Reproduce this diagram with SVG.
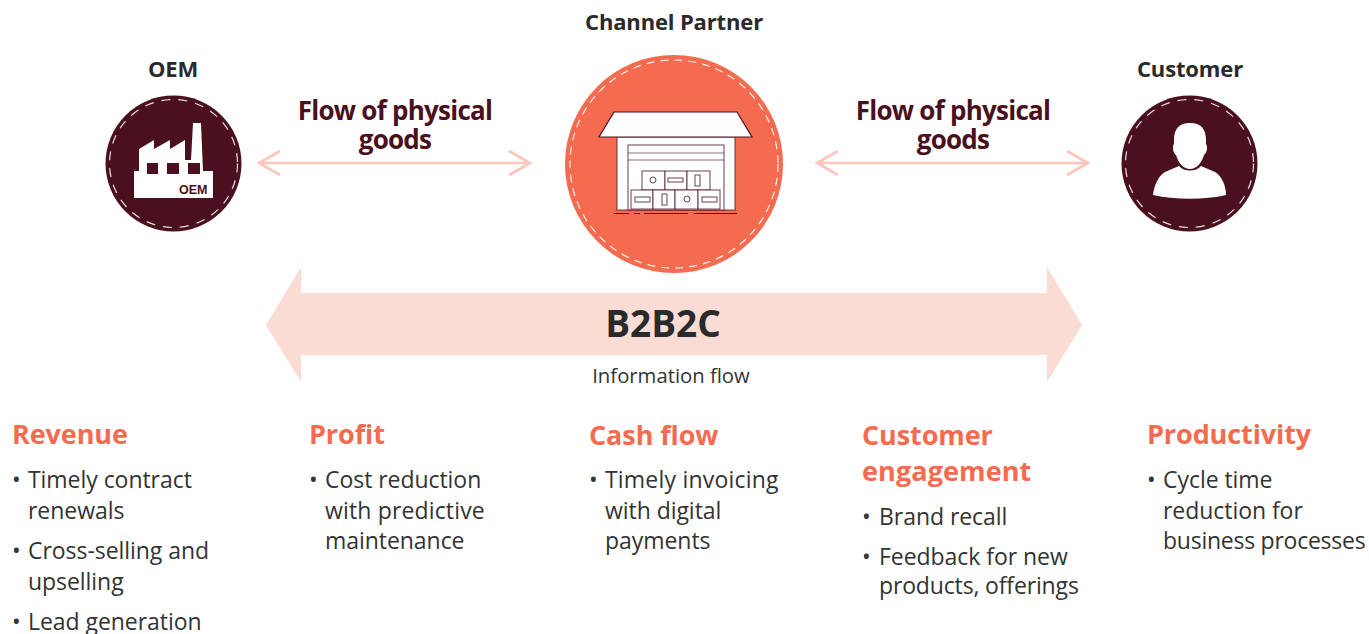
<svg xmlns="http://www.w3.org/2000/svg" width="1369" height="634" viewBox="0 0 1369 634">
<style>
text{font-family:"Open Sans","Noto Sans","Liberation Sans",sans-serif}
.t{font-size:22px;font-weight:700;fill:#2a2a2a;text-anchor:middle;letter-spacing:-.15px}
.f{font-size:26px;font-weight:700;fill:#4a101d;text-anchor:middle;letter-spacing:-.75px}
.h{font-size:27px;font-weight:700;fill:#f46b50;letter-spacing:-.1px}
.b{font-size:23px;fill:#333;letter-spacing:-.05px}
.dash{fill:none;stroke:#fff;stroke-width:1.2;stroke-dasharray:8 6;opacity:.9}
.dash2{fill:none;stroke:#fff;stroke-width:1.2;stroke-dasharray:9 8;opacity:.85}
.dark{fill:#4a101d}
.arrow{fill:none;stroke:#fdc5bb;stroke-width:2.6}
.ln{fill:none;stroke:#4a101d;stroke-width:1.2}
.ln2{fill:#fff;stroke:#4a101d;stroke-width:1;stroke-opacity:.8}
</style>
<rect width="1369" height="634" fill="#fff"/>
<g id="connectors">
<path class="arrow" d="M259 163H530M280 151L259 163L280 175M509 151L530 163L509 175"/>
<path class="arrow" d="M817 163H1088M838 151L817 163L838 175M1067 151L1088 163L1067 175"/>
<text class="f" x="395" y="120">Flow of physical</text>
<text class="f" x="395" y="149">goods</text>
<text class="f" x="953" y="120">Flow of physical</text>
<text class="f" x="953" y="149">goods</text>
</g>
<g id="oem">
<text class="t" x="173" y="77">OEM</text>
<circle class="dark" cx="173.500" cy="163.500" r="68"/>
<circle class="dash2" cx="173.500" cy="163.500" r="64"/>
<path fill="#fff" d="M134 171H139V149L154 140V149L170 140V149L185 140V160H191L193 123H201L203 171H213V198H134Z"/>
<rect class="dark" x="147" y="163" width="11" height="11"/>
<rect class="dark" x="167" y="163" width="12" height="11"/>
<rect class="dark" x="188" y="163" width="12" height="11"/>
<text x="179" y="194" font-size="12.500" font-weight="700" fill="#4a101d" style="font-family:'Liberation Sans',sans-serif">OEM</text>
</g>
<g id="channel-partner">
<text class="t" x="674" y="30">Channel Partner</text>
<circle cx="674" cy="164" r="109" fill="#f46b50"/>
<circle class="dash" cx="674" cy="164" r="104"/>
<rect class="ln2" x="617" y="137" width="118" height="73"/>
<path fill="#fff" stroke="#4a101d" stroke-width="1.200" d="M614 112H737L752 137H599Z"/>
<rect class="ln2" x="628" y="145" width="96" height="65"/>
<path class="ln" opacity=".6" d="M628 153H724M628 160H724"/>
<g>
<rect class="ln2" x="642" y="171" width="23" height="19"/><rect class="ln2" x="665" y="171" width="22" height="19"/><rect class="ln2" x="687" y="171" width="23" height="19"/>
<rect class="ln2" x="631" y="190" width="22" height="19"/><rect class="ln2" x="653" y="190" width="22" height="19"/><rect class="ln2" x="675" y="190" width="23" height="19"/><rect class="ln2" x="698" y="190" width="22" height="19"/>
<circle class="ln2" cx="653" cy="180" r="3"/><rect class="ln2" x="668" y="178" width="15" height="4"/><rect class="ln2" x="695" y="175" width="5" height="11"/>
<rect class="ln2" x="635" y="197" width="15" height="5"/><rect class="ln2" x="662" y="194" width="5" height="11"/><circle class="ln2" cx="687" cy="199" r="3"/><rect class="ln2" x="702" y="197" width="15" height="5"/>
</g>
<path class="ln" d="M614 213.500H629M634 213.500H640M644 213.500H688M694 213.500H737"/>
</g>
<g id="customer">
<text class="t" x="1190" y="77">Customer</text>
<circle class="dark" cx="1189.500" cy="163.500" r="68"/>
<circle class="dash2" cx="1189.500" cy="163.500" r="64"/>
<path fill="#fff" d="M1190 123C1202 123 1206 130 1206 140V144C1208 146 1207 153 1204 155C1202 162 1197 169 1190 169C1183 169 1178 162 1176 155C1173 153 1172 146 1174 144V140C1174 130 1178 123 1190 123ZM1179 166C1184 172 1196 172 1201 166L1215 172C1222 176 1226 186 1226 195C1205 200 1175 200 1153 195C1154 186 1158 176 1165 172Z"/>
</g>
<g id="b2b2c">
<path fill="#fbdcd5" d="M266 325L301 267V293H1047V267L1082 325L1047 382V355H301V382Z"/>
<text x="663" y="337" font-size="37" font-weight="700" fill="#2a2a2a" text-anchor="middle">B2B2C</text>
<text x="671" y="383" font-size="20.300" fill="#333" text-anchor="middle">Information flow</text>
</g>
<g id="revenue">
<text class="h" x="12" y="444">Revenue</text>
<text class="b" x="12" y="488">•</text><text class="b" x="28" y="488">Timely contract</text>
<text class="b" x="28" y="519">renewals</text>
<text class="b" x="12" y="559">•</text><text class="b" x="28" y="559">Cross-selling and</text>
<text class="b" x="28" y="590">upselling</text>
<text class="b" x="12" y="630">•</text><text class="b" x="28" y="630">Lead generation</text>
</g>
<g id="profit">
<text class="h" x="309" y="444">Profit</text>
<text class="b" x="309" y="488">•</text><text class="b" x="325" y="488">Cost reduction</text>
<text class="b" x="325" y="519" style="letter-spacing:.15px">with predictive</text>
<text class="b" x="325" y="549">maintenance</text>
</g>
<g id="cash-flow">
<text class="h" x="589" y="445">Cash flow</text>
<text class="b" x="589" y="488">•</text><text class="b" x="605" y="488" style="letter-spacing:.2px">Timely invoicing</text>
<text class="b" x="605" y="519">with digital</text>
<text class="b" x="605" y="549">payments</text>
</g>
<g id="customer-engagement">
<text class="h" x="862" y="445">Customer</text>
<text class="h" x="862" y="481" style="letter-spacing:.1px">engagement</text>
<text class="b" x="862" y="525">•</text><text class="b" x="879" y="525">Brand recall</text>
<text class="b" x="862" y="565">•</text><text class="b" x="879" y="565">Feedback for new</text>
<text class="b" x="879" y="594" style="letter-spacing:-.15px">products, offerings</text>
</g>
<g id="productivity">
<text class="h" x="1147" y="444">Productivity</text>
<text class="b" x="1147" y="488">•</text><text class="b" x="1163" y="488">Cycle time</text>
<text class="b" x="1163" y="519">reduction for</text>
<text class="b" x="1163" y="549" style="letter-spacing:-.25px">business processes</text>
</g>
</svg>
